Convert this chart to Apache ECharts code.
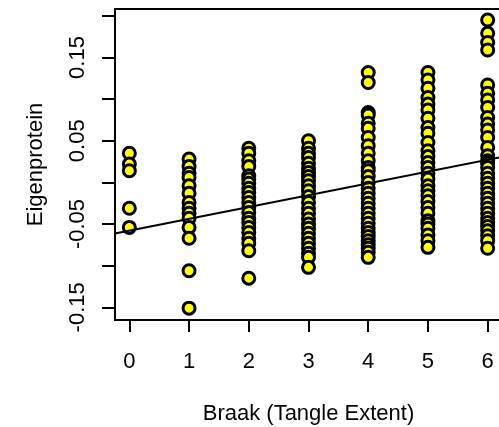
<!DOCTYPE html>
<html>
<head>
<meta charset="utf-8">
<script src="https://cdn.jsdelivr.net/npm/echarts@6/dist/echarts.min.js"></script>
<style>html,body{margin:0;padding:0;background:#fff}#c{width:499px;height:427px}</style>
</head>
<body>
<div id="c"></div>
<script>
// Eigenprotein values by Braak stage
const braak0 = [0.035, 0.022, 0.014, -0.031, -0.054];
const braak1 = [0.028, 0.019, 0.011, 0.006, -0.004, -0.013, -0.024, -0.031, -0.037, -0.043, -0.054, -0.067, -0.106, -0.151];
const braak2 = [0.041, 0.035, 0.026, 0.019, 0.008, 0.004, -0.001, -0.007, -0.012, -0.018, -0.024, -0.030, -0.036, -0.043, -0.048, -0.054, -0.060, -0.067, -0.073, -0.082, -0.115];
const braak3 = [0.050, 0.041, 0.035, 0.030, 0.023, 0.017, 0.012, 0.007, 0.002, -0.004, -0.010, -0.017, -0.024, -0.031, -0.037, -0.044, -0.050, -0.055, -0.061, -0.067, -0.073, -0.079, -0.085, -0.090, -0.102];
const braak4 = [0.132, 0.120, 0.084, 0.081, 0.071, 0.065, 0.054, 0.044, 0.035, 0.026, 0.018, 0.014, 0.007, 0.000, -0.007, -0.013, -0.019, -0.025, -0.031, -0.037, -0.043, -0.049, -0.055, -0.060, -0.065, -0.070, -0.075, -0.079, -0.084, -0.090];
const braak5 = [0.132, 0.123, 0.113, 0.102, 0.094, 0.087, 0.077, 0.066, 0.059, 0.048, 0.038, 0.031, 0.024, 0.018, 0.011, 0.004, -0.004, -0.010, -0.016, -0.023, -0.030, -0.037, -0.046, -0.050, -0.055, -0.063, -0.070, -0.078];
const braak6 = [0.195, 0.179, 0.168, 0.159, 0.117, 0.107, 0.099, 0.090, 0.078, 0.070, 0.063, 0.054, 0.042, 0.032, 0.026, 0.023, 0.018, 0.011, 0.005, -0.001, -0.007, -0.013, -0.019, -0.025, -0.031, -0.037, -0.043, -0.048, -0.053, -0.058, -0.064, -0.070, -0.079];

const stages = [0, 1, 2, 3, 4, 5, 6];
const xTicks = [0, 1, 2, 3, 4, 5, 6];
const yTicks = [-0.15, -0.10, -0.05, 0.00, 0.05, 0.10, 0.15, 0.20];
const yLabels = [-0.15, -0.05, 0.05, 0.15];

// linear fit (abline)
const fitIntercept = -0.058;
const fitSlope = 0.0142;

const xMin = -0.24, xMax = 6.24;
const yMin = -0.1652, yMax = 0.2082;

const groups = [braak0, braak1, braak2, braak3, braak4, braak5, braak6];
const points = [];
groups.forEach((g, i) => g.forEach(v => points.push([stages[i], v])));

const lineData = [[xMin, fitIntercept + fitSlope * xMin], [xMax, fitIntercept + fitSlope * xMax]];

const font = 'Liberation Sans, Arial, sans-serif';
const chart = echarts.init(document.getElementById('c'), null, {renderer: 'canvas'});
chart.setOption({
  animation: false,
  backgroundColor: '#fff',
  grid: {left: 115, top: 9, width: 387, height: 311, show: true, borderColor: '#000', borderWidth: 2,
         backgroundColor: 'transparent', containLabel: false, outerBoundsMode: 'none'},
  xAxis: {
    type: 'value', min: xMin, max: xMax, position: 'bottom',
    name: 'Braak (Tangle Extent)', nameLocation: 'middle', nameGap: 83,
    nameTextStyle: {fontFamily: font, fontSize: 22, color: '#000'},
    axisLine: {show: false, onZero: false},
    splitLine: {show: false},
    axisTick: {show: true, length: 12, lineStyle: {color: '#000', width: 2}, customValues: xTicks},
    axisLabel: {fontFamily: font, fontSize: 22, color: '#000', margin: 31, customValues: xTicks, formatter: v => String(v)}
  },
  yAxis: {
    type: 'value', min: yMin, max: yMax, position: 'left',
    name: 'Eigenprotein', nameLocation: 'middle', nameGap: 68, nameRotate: 90,
    nameTextStyle: {fontFamily: font, fontSize: 22, color: '#000'},
    axisLine: {show: false, onZero: false},
    splitLine: {show: false},
    axisTick: {show: true, length: 13, lineStyle: {color: '#000', width: 2}, customValues: yTicks},
    axisLabel: {fontFamily: font, fontSize: 22, color: '#000', margin: 26, rotate: 90, customValues: yLabels, formatter: v => v.toFixed(2)}
  },
  series: [
    {type: 'scatter', data: points, symbol: 'circle', symbolSize: 12,
     itemStyle: {color: '#ffff00', borderColor: '#000', borderWidth: 3, opacity: 1}, z: 2},
    {type: 'line', data: lineData, symbol: 'none', lineStyle: {color: '#000', width: 2}, z: 3, clip: true}
  ]
});
</script>
</body>
</html>
